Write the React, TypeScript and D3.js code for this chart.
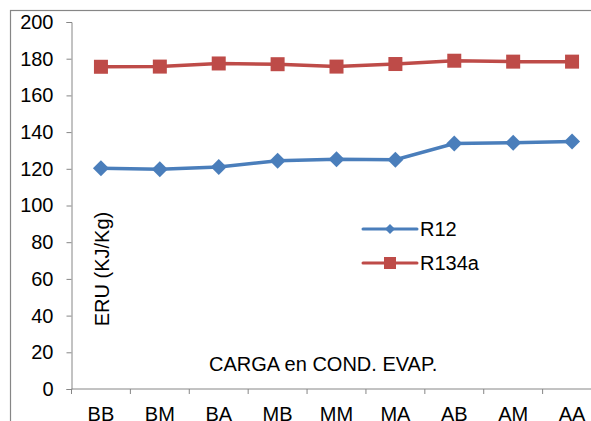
import React, { useRef, useEffect } from 'react';
import * as d3 from 'd3';

const categories = ['BB', 'BM', 'BA', 'MB', 'MM', 'MA', 'AB', 'AM', 'AA'];
const r12 = [120.3, 119.7, 121.0, 124.4, 125.2, 125.0, 133.8, 134.2, 134.9];
const r134a = [175.6, 175.7, 177.4, 177.0, 175.7, 177.1, 178.9, 178.4, 178.4];
const yTicks = [0, 20, 40, 60, 80, 100, 120, 140, 160, 180, 200];

const WIDTH = 591;
const HEIGHT = 421;
const BLUE = '#4a7ebb';
const RED = '#be4b48';
const AXIS = '#868686';
const FONT = '"Liberation Sans", Arial, sans-serif';

const App: React.FC = () => {
  const svgRef = useRef<SVGSVGElement>(null);

  useEffect(() => {
    if (!svgRef.current) return;
    const svg = d3.select(svgRef.current);
    svg.selectAll('*').remove();

    // plot area (the right edge runs past the picture)
    const left = 71.5;
    const right = 601.5;
    const top = 22;
    const bottom = 389;

    const x = d3.scaleBand<string>().domain(categories).range([left, right]);
    const y = d3.scaleLinear().domain([0, 200]).range([bottom, top]);
    const cx = (c: string) => (x(c) as number) + x.bandwidth() / 2;

    // outer chart border
    svg.append('rect')
      .attr('x', 10.5)
      .attr('y', 10.5)
      .attr('width', 700)
      .attr('height', 600)
      .attr('fill', 'none')
      .attr('stroke', AXIS)
      .attr('stroke-width', 1.2);

    // y axis
    const yAxis = svg.append('g')
      .attr('transform', `translate(${left},0)`)
      .call(d3.axisLeft(y).tickValues(yTicks).tickSize(5).tickPadding(13));
    yAxis.select('.domain').attr('stroke', AXIS);
    yAxis.selectAll('.tick line').attr('stroke', AXIS);
    yAxis.selectAll('.tick text')
      .attr('fill', '#000')
      .attr('font-family', FONT)
      .attr('font-size', 20);

    // x axis with ticks on band edges
    const xAxis = svg.append('g').attr('transform', `translate(0,${bottom})`);
    xAxis.append('line')
      .attr('x1', left).attr('x2', right)
      .attr('stroke', AXIS);
    const edges = categories.map((c) => x(c) as number).concat([right]);
    xAxis.selectAll('line.tk')
      .data(edges)
      .enter()
      .append('line')
      .attr('class', 'tk')
      .attr('x1', (d) => d).attr('x2', (d) => d)
      .attr('y1', 0).attr('y2', 5)
      .attr('stroke', AXIS);
    xAxis.selectAll('text')
      .data(categories)
      .enter()
      .append('text')
      .attr('x', (d) => cx(d))
      .attr('y', 31.5)
      .attr('text-anchor', 'middle')
      .attr('font-family', FONT)
      .attr('font-size', 20)
      .attr('fill', '#000')
      .text((d) => d);

    const line = d3.line<number>()
      .x((d, i) => cx(categories[i]))
      .y((d) => y(d));

    // R134a
    svg.append('path')
      .datum(r134a)
      .attr('fill', 'none')
      .attr('stroke', RED)
      .attr('stroke-width', 3.5)
      .attr('d', line);
    svg.selectAll('rect.sq')
      .data(r134a)
      .enter()
      .append('rect')
      .attr('class', 'sq')
      .attr('x', (d, i) => cx(categories[i]) - 7)
      .attr('y', (d) => y(d) - 7)
      .attr('width', 14)
      .attr('height', 14)
      .attr('fill', RED);

    // R12
    svg.append('path')
      .datum(r12)
      .attr('fill', 'none')
      .attr('stroke', BLUE)
      .attr('stroke-width', 3.5)
      .attr('d', line);
    const diamond = (s: number) => `M0,${-s}L${s},0L0,${s}L${-s},0Z`;
    svg.selectAll('path.dm')
      .data(r12)
      .enter()
      .append('path')
      .attr('class', 'dm')
      .attr('transform', (d, i) => `translate(${cx(categories[i])},${y(d)})`)
      .attr('d', diamond(8))
      .attr('fill', BLUE);

    // legend
    const legend = svg.append('g').attr('font-family', FONT).attr('font-size', 20);
    const items = [
      { name: 'R12', color: BLUE, y: 229 },
      { name: 'R134a', color: RED, y: 263 },
    ];
    items.forEach((it) => {
      legend.append('line')
        .attr('x1', 363).attr('x2', 417)
        .attr('y1', it.y).attr('y2', it.y)
        .attr('stroke', it.color)
        .attr('stroke-width', 3)
        .attr('stroke-linecap', 'round');
      if (it.name === 'R12') {
        legend.append('path')
          .attr('transform', `translate(390,${it.y})`)
          .attr('d', diamond(5))
          .attr('fill', it.color);
      } else {
        legend.append('rect')
          .attr('x', 384).attr('y', it.y - 6)
          .attr('width', 12).attr('height', 12)
          .attr('fill', it.color);
      }
      legend.append('text')
        .attr('x', 420)
        .attr('y', it.y + 7)
        .attr('fill', '#000')
        .text(it.name);
    });

    // axis titles
    svg.append('text')
      .attr('transform', `translate(109,269) rotate(-90)`)
      .attr('text-anchor', 'middle')
      .attr('font-family', FONT)
      .attr('font-size', 20)
      .attr('fill', '#000')
      .text('ERU (KJ/Kg)');

    svg.append('text')
      .attr('x', 209)
      .attr('y', 371)
      .attr('font-family', FONT)
      .attr('font-size', 20)
      .attr('fill', '#000')
      .text('CARGA en COND. EVAP.');
  }, []);

  return (
    <svg
      ref={svgRef}
      width={WIDTH}
      height={HEIGHT}
      style={{ position: 'absolute', left: 0, top: 0, background: '#fff' }}
    />
  );
};

export default App;
